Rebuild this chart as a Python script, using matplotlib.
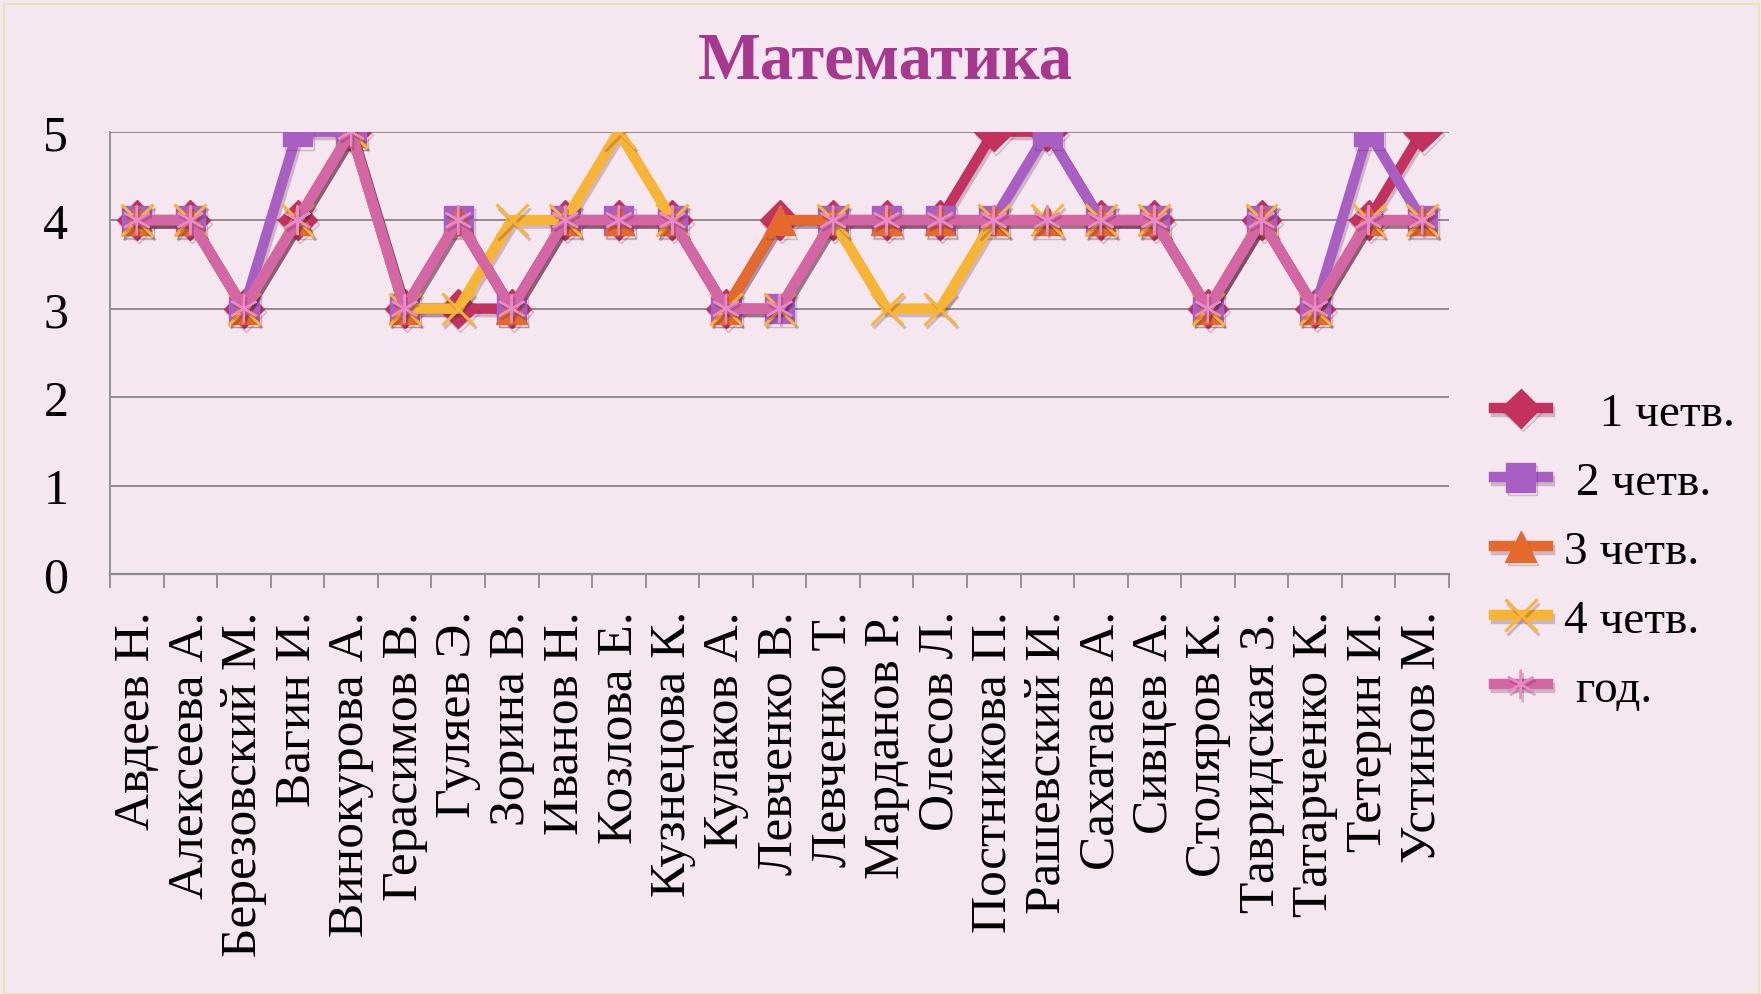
"""Line chart of quarterly and yearly maths marks per pupil (matplotlib)."""
import matplotlib

matplotlib.use("Agg")
import matplotlib.pyplot as plt  # noqa: E402
import matplotlib.patheffects as pe  # noqa: E402
from matplotlib.patches import Rectangle  # noqa: E402

plt.rcParams["font.family"] = ["Liberation Serif", "DejaVu Serif"]

# --- data -------------------------------------------------------------
pupils = [
    "Авдеев Н.", "Алексеева А.", "Березовский М.", "Вагин И.", "Винокурова А.",
    "Герасимов В.", "Гуляев Э.", "Зорина В.", "Иванов Н.", "Козлова Е.",
    "Кузнецова К.", "Кулаков А.", "Левченко В.", "Левченко Т.", "Марданов Р.",
    "Олесов Л.", "Постникова П.", "Рашевский И.", "Сахатаев А.", "Сивцев А.",
    "Столяров К.", "Тавридская З.", "Татарченко К.", "Тетерин И.", "Устинов М.",
]
q1 = [4, 4, 3, 4, 5, 3, 3, 3, 4, 4, 4, 3, 4, 4, 4, 4, 5, 5, 4, 4, 3, 4, 3, 4, 5]
q2 = [4, 4, 3, 5, 5, 3, 4, 3, 4, 4, 4, 3, 3, 4, 4, 4, 4, 5, 4, 4, 3, 4, 3, 5, 4]
q3 = [4, 4, 3, 4, 5, 3, 4, 3, 4, 4, 4, 3, 4, 4, 4, 4, 4, 4, 4, 4, 3, 4, 3, 4, 4]
q4 = [4, 4, 3, 4, 5, 3, 3, 4, 4, 5, 4, 3, 3, 4, 3, 3, 4, 4, 4, 4, 3, 4, 3, 4, 4]
year = [4, 4, 3, 4, 5, 3, 4, 3, 4, 4, 4, 3, 3, 4, 4, 4, 4, 4, 4, 4, 3, 4, 3, 4, 4]
labels = ["   1 четв.", " 2 четв.", "3 четв.", "4 четв.", " год."]
y_ticks = [0, 1, 2, 3, 4, 5]

BG = "#F4E7EF"
GRID = "#8E8A8E"

fig = plt.figure(figsize=(17.61, 9.95), dpi=100, facecolor=BG)
fig.patches.append(Rectangle((0.002, 0.0), 0.997, 0.995, transform=fig.transFigure,
                             fill=False, edgecolor="#E9E3A6", linewidth=1.2))
ax = fig.add_axes([0.0625, 0.422, 0.7603, 0.4447], facecolor=BG)

x = list(range(len(pupils)))
shadow = [pe.SimpleLineShadow(offset=(1.5, -2.5), alpha=0.25, shadow_color="#5a2040"), pe.Normal()]

styles = [
    (q1, "#C3325F", dict(marker="D", markersize=20)),
    (q2, "#A95EC4", dict(marker="s", markersize=21)),
    (q3, "#E5692B", dict(marker="^", markersize=22)),
    (q4, "#F8B534", dict(marker="x", markersize=23, markeredgewidth=2.2)),
    (year, "#D466A6", dict(marker=(6, 2, 0), markersize=21, markeredgewidth=1.6,
                           markeredgecolor="#E88AC4")),
]
for (vals, color, mk), lab in zip(styles, labels):
    kw = dict(color=color, linewidth=7.5, solid_joinstyle="miter", label=lab,
              markerfacecolor=color, path_effects=shadow)
    if "markeredgecolor" not in mk:
        kw["markeredgecolor"] = color
    kw.update(mk)
    ax.plot(x, vals, **kw)

ax.set_xlim(-0.5, len(pupils) - 0.5)
ax.set_ylim(0, 5)
ax.set_yticks(y_ticks)
ax.yaxis.grid(True, color=GRID, linewidth=1.4)
ax.set_axisbelow(True)
ax.tick_params(axis="y", length=0, pad=30, labelsize=36)

ax.set_xticks(x)
ax.set_xticklabels(pupils, rotation=90, fontsize=37)
ax.tick_params(axis="x", length=0, pad=26)
ax.set_xticks([i - 0.5 for i in range(len(pupils) + 1)], minor=True)
ax.tick_params(axis="x", which="minor", length=10, width=1.3, color=GRID)

for side in ("top", "right"):
    ax.spines[side].set_visible(False)
ax.spines["bottom"].set_color(GRID)
ax.spines["bottom"].set_linewidth(1.6)
ax.spines["left"].set_color(GRID)
ax.spines["left"].set_linewidth(1.3)

fig.text(0.503, 0.938, "Математика", ha="center", va="center", fontsize=48,
         fontweight="bold", color="#A7378F")

fig.legend(loc="center left", bbox_to_anchor=(0.824, 0.445), frameon=False,
           fontsize=34, handlelength=1.15, handletextpad=0.35, labelspacing=0.55)

fig.savefig("out.png", dpi=100, facecolor=BG)
